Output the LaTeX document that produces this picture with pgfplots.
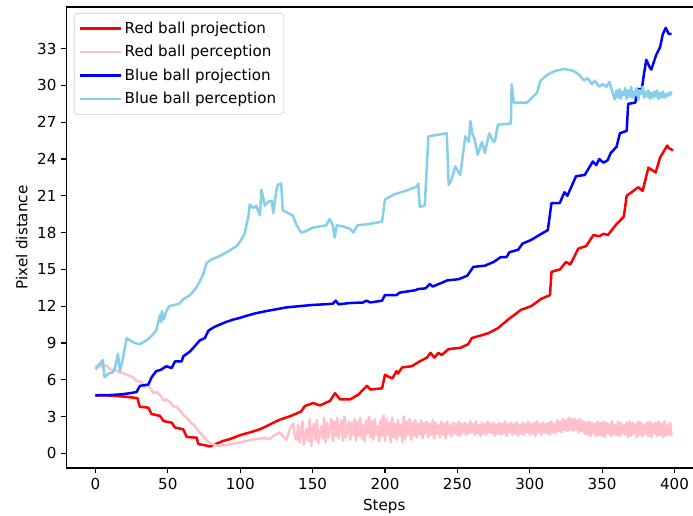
\documentclass[border=0pt]{standalone}
\usepackage{pgfplots}
\pgfplotsset{compat=1.18}
\usepackage{fontspec}
\setmainfont{DejaVu Sans}
\definecolor{skyblue}{HTML}{87CEEB}
\definecolor{mplpink}{HTML}{FFC0CB}
\definecolor{legframe}{HTML}{CCCCCC}
\begin{document}
\begin{tikzpicture}
\begin{axis}[
  scale only axis,
  width=457.4pt, height=331.9pt,
  xmin=-19.95, xmax=418.95,
  ymin=-1.2, ymax=36.4,
  xtick={0,50,...,400},
  ytick={0,3,...,33},
  tick align=outside,
  tick pos=left,
  major tick length=3.8pt,
  tick style={black, line width=0.85pt},
  axis line style={line width=0.85pt},
  /pgf/number format/assume math mode=true,
  ticklabel style={font=\fontsize{10.9}{13}\selectfont},
  label style={font=\fontsize{10.9}{13}\selectfont},
  xlabel={Steps}, ylabel={Pixel distance},
  legend cell align=left,
  legend style={at={(0.0116,0.987)}, anchor=north west, draw=legframe, rounded corners=2pt,
    fill=white, fill opacity=0.8, text opacity=1, font=\fontsize{10.9}{13}\selectfont,
    row sep=3.2pt, inner xsep=3.5pt, inner ysep=4pt},
  legend image code/.code={\draw[#1, line width=1.8pt] (0pt,0pt) -- (23pt,0pt); \path (0pt,0pt) -- (29pt,0pt);},
  every axis plot/.append style={line width=1.8pt, line join=round},
]
\addplot[red, mark=none] coordinates {
(0,4.73)(8,4.72)(15,4.67)(22,4.6)(29,4.5)(30.6,3.8)(36.5,3.72)(38.8,3.2)(44.6,3.05)(47,2.63)
(52.6,2.5)(55,2.1)(60.6,1.96)(63,1.33)(70,1.27)(71,0.75)(76,0.65)(79,0.55)(84,0.8)(88,1.0)
(94,1.2)(98,1.4)(102,1.55)(108,1.75)(113.6,1.96)(118,2.2)(123,2.5)(127.5,2.75)(134,3.0)(142,3.4)
(144.7,3.86)(150.5,4.1)(155,3.9)(162,4.27)(165.5,4.9)(169,4.4)(176,4.4)(181.8,4.8)(187.5,5.5)(190,5.2)
(198,5.3)(200,6.4)(205,6.1)(208,6.7)(209,6.5)(211.8,7.0)(218.5,7.1)(224,7.5)(229,7.8)(231.5,8.2)
(234,7.8)(237,8.2)(239,8.0)(244,8.5)(252,8.6)(257.5,8.9)(260,9.4)(266,9.6)(271.5,9.8)(278,10.2)
(285,10.9)(294,11.7)(301,12.0)(308,12.6)(314,12.9)(315,14.8)(321,15.0)(325,15.6)(328,15.4)(333.6,16.7)
(339,16.9)(344,17.8)(348,17.7)(351,17.9)(354,17.8)(360,18.7)(365,19.3)(367,21.0)(375,21.7)(378,21.4)
(382,23.3)(387,22.9)(390,24.1)(395,25.1)(396,24.9)(399,24.7)
};
\addlegendentry{Red ball projection}
\addplot[mplpink, mark=none] table {
x y
0 7.2
2 7.0
3 7.3
5 7.0
7 7.2
9.7 6.9
12 6.7
14 6.8
16.9 6.6
20 6.5
23.8 6.3
26 6.2
28.4 5.9
32 5.8
34 5.4
35 5.6
38 5.3
40 4.9
42 5.0
45 4.7
47 4.3
49 4.4
52 4.1
54 3.8
56 3.8
59 3.4
61 3.1
63 2.9
66 2.5
68 2.3
70 2.0
73 1.6
77 1.0
80 0.8
84 0.6
88 0.65
93 0.73
98 0.85
104 1.0
108 1.1
113.6 1.2
117 1.25
120 1.15
124 1.5
127.5 1.7
130 1.3
132 1.1
134 1.9
136.6 2.4
138 1.2
139 1.1
140 2.3
141 0.9
142 1.8
143 2.6
144 0.7
145 1.5
146 2.0
147 1.0
148 2.8
149 0.6
150 1.9
151 2.4
152 1.1
153 2.7
154 0.8
155 1.6
156 2.2
157 1.2
158 2.9
159 0.9
160 2.5
161 1.3
162 2.0
163 2.8
164 1.0
165 2.6
166 1.4
167 2.9
168 1.2
169 2.1
170 2.7
171 1.0
172 3.0
173 1.3
174 1.9
175 2.6
176 1.1
177 2.5
178 1.5
179 2.8
180 1.0
181 2.6
182 1.4
183 2.9
184 1.2
185 2.3
186 1.0
187 2.7
188 1.6
189 3.0
190 1.3
191 2.6
192 1.1
193 2.8
194 1.5
195 2.2
196 1.0
197 2.7
198 1.4
199 3.1
200 1.0
201 2.8
202 1.5
203 2.5
204 0.9
205 2.9
206 1.3
207 2.4
208 1.1
209 2.7
210 1.4
211 2.3
212 0.9
213 3.0
214 1.2
215 2.6
216 1.5
217 2.8
218 1.1
219 2.5
220 1.4
221 2.7
222 1.3
223 2.4
224 1.5
225 2.7
226 1.2
227 2.5
228 1.6
229 2.6
230 1.3
231 2.4
232 1.5
233 2.7
234 1.2
235 2.5
236 1.6
237 2.3
238 1.3
239 2.6
240 1.5
241 2.4
242 1.2
243 2.6
244 1.6
245 2.3
246 1.4
247 2.5
248 1.6
249 2.4
250 1.5
251 2.6
252 1.4
253 2.4
254 1.7
255 2.5
256 1.5
257 2.4
258 1.6
259 2.6
260 1.7
261 2.4
262 1.5
263 2.6
264 1.6
265 2.3
266 1.4
267 2.5
268 1.6
269 2.4
270 1.5
271 2.6
272 1.7
273 2.4
274 1.6
275 2.5
276 1.4
277 2.3
278 1.6
279 2.5
280 1.5
281 2.4
282 1.6
283 2.6
284 1.4
285 2.4
286 1.7
287 2.5
288 1.5
289 2.4
290 1.6
291 2.5
292 1.4
293 2.3
294 1.6
295 2.5
296 1.5
297 2.4
298 1.7
299 2.6
300 1.5
301 2.4
302 1.6
303 2.5
304 1.4
305 2.6
306 1.7
307 2.4
308 1.5
309 2.5
310 1.7
311 2.4
312 1.6
313 2.5
314 1.5
315 2.6
316 1.7
317 2.4
318 1.6
319 2.7
320 1.8
321 2.6
322 1.7
323 2.8
324 1.9
325 2.7
326 1.8
327 2.9
328 1.9
329 2.8
330 1.8
331 2.8
332 1.9
333 2.7
334 1.7
335 2.8
336 1.8
337 2.6
338 1.6
339 2.5
340 1.5
341 2.6
342 1.4
343 2.5
344 1.6
345 2.4
346 1.4
347 2.6
348 1.5
349 2.5
350 1.4
351 2.6
352 1.3
353 2.5
354 1.6
355 2.4
356 1.4
357 2.6
358 1.5
359 2.3
360 1.5
361 2.6
362 1.4
363 2.5
364 1.6
365 2.3
366 1.5
367 2.5
368 1.3
369 2.6
370 1.4
371 2.5
372 1.6
373 2.4
374 1.3
375 2.6
376 1.5
377 2.5
378 1.4
379 2.3
380 1.6
381 2.5
382 1.4
383 2.6
384 1.3
385 2.4
386 1.6
387 2.5
388 1.4
389 2.6
390 1.5
391 2.4
392 1.3
393 2.6
394 1.4
395 2.3
396 1.5
397 2.5
398 1.4
};
\addlegendentry{Red ball perception}
\addplot[blue, mark=none] coordinates {
(0,4.73)(10,4.75)(17,4.8)(24,4.9)(28.4,5.0)(30.7,5.5)(36.5,5.6)(38.8,6.2)(42,6.7)(45,6.8)
(49,7.1)(52.6,6.95)(55,7.5)(59.6,7.5)(60.6,7.9)(65.3,8.3)(68.7,8.75)(72,9.2)(75.6,9.4)(78,10.0)
(82,10.3)(86,10.5)(90,10.7)(95,10.9)(100,11.05)(104,11.2)(110,11.4)(118,11.6)(125,11.75)(132,11.9)
(141,12.0)(150,12.1)(158,12.15)(164,12.2)(166,12.45)(168,12.15)(175,12.25)(185,12.3)(187,12.45)(190,12.3)
(198,12.45)(200,12.9)(208,12.9)(210,13.1)(221,13.3)(223,13.4)(228,13.45)(231,13.8)(233,13.6)(237,13.8)
(243,14.1)(251,14.2)(257,14.5)(261,15.2)(269,15.3)(275,15.6)(280,16.0)(284,16.0)(286,16.4)(292,16.6)
(295,17.1)(301,17.4)(306.6,17.8)(312.5,18.2)(315,20.4)(320.7,20.4)(324,21.3)(326,21.0)(327.5,21.4)(332,22.6)
(338,22.7)(343.6,23.8)(346,23.5)(348,24.0)(351,23.7)(353.8,23.9)(356,24.5)(360,25.0)(362.3,26.1)(367,26.3)
(368,28.5)(373,28.6)(374,29.7)(377.5,29.7)(378.5,30.6)(380.5,32.1)(382.8,31.5)(384,31.3)(387.4,32.5)(390,33.1)
(392,34.2)(394,34.7)(396,34.2)(398,34.2)
};
\addlegendentry{Blue ball projection}
\addplot[skyblue, mark=none] coordinates {
(0,6.85)(3,7.3)(5,7.6)(6.3,6.2)(9,6.5)(12,6.6)(14,7.2)(15.5,8.1)(17,6.7)(19,7.8)
(21.6,9.4)(23.8,9.2)(27,9.0)(30.7,8.9)(36.5,9.3)(42,10.0)(44.6,11.3)(45.5,10.7)(46,11.6)(47,10.9)
(49,11.6)(51,12.0)(58,12.2)(60.6,12.56)(65.3,12.9)(69.6,13.5)(72,14.0)(74.4,14.6)(76.7,15.5)(80,15.8)
(86,16.1)(92,16.5)(97.6,16.9)(100,17.3)(103,17.9)(105,19.0)(105.5,19.2)(106.6,20.3)(108.9,20.0)(111,20.2)
(113.6,19.4)(114.7,21.5)(117,20.2)(119,20.5)(121.7,20.6)(122.8,19.6)(124.9,21.4)(126,21.9)(128.3,22.0)(129.4,19.8)
(133,19.6)(136.3,19.4)(139,18.6)(142,18.0)(145,18.1)(150,18.4)(155,18.5)(159.5,18.6)(161.7,19.1)(164,18.6)
(165.2,17.6)(166.7,18.6)(171,18.5)(176,18.3)(178,18.0)(181,18.6)(189,18.7)(198,18.9)(200,20.7)(206,21.1)
(214,21.4)(222,21.75)(223,22.0)(224,20.1)(227.5,20.2)(230,25.85)(242.7,26.1)(244,21.9)(246,22.3)(248.5,23.4)
(252,22.7)(255.5,25.85)(258,25.4)(259,27.1)(260.5,26.0)(262,25.6)(264,24.35)(267,25.4)(269,24.5)(272,26.1)
(275,25.4)(276,25.5)(278,26.8)(287,26.9)(287.5,30.1)(289,28.6)(298,28.6)(305,29.4)(307.5,30.4)(312.5,30.9)
(318,31.2)(324,31.35)(330,31.2)(334,30.9)(337.6,30.4)(340,30.6)(343,30.1)(345,30.4)(348,29.9)(350.4,30.1)
(353,29.9)(355,30.3)(357.6,29.3)(358.7,28.85)(360,29.6)(361,29.0)(362,29.7)(363,28.9)(364,29.5)(365,29.2)
(366,29.8)(367,28.9)(368,29.6)(369,29.1)(370,29.9)(371,29.0)(372,29.5)(373,29.2)(374,29.8)(375,28.8)
(376,29.6)(377,29.3)(378,29.9)(379,29.0)(380,29.5)(381,29.1)(382,29.6)(383,28.9)(384,29.4)(385,29.0)
(386,29.5)(387,29.1)(388,29.6)(389,28.9)(390,29.4)(391,29.0)(392,29.5)(393,29.0)(394,29.3)(395,29.1)
(396,29.4)(397,29.2)(398,29.5)
};
\addlegendentry{Blue ball perception}
\end{axis}
\pgfresetboundingbox
\path[use as bounding box] ([xshift=-47.95pt,yshift=-34.56pt]current axis.south west) rectangle ([xshift=-6.4pt,yshift=5.04pt]current axis.north east);
\end{tikzpicture}
\end{document}
